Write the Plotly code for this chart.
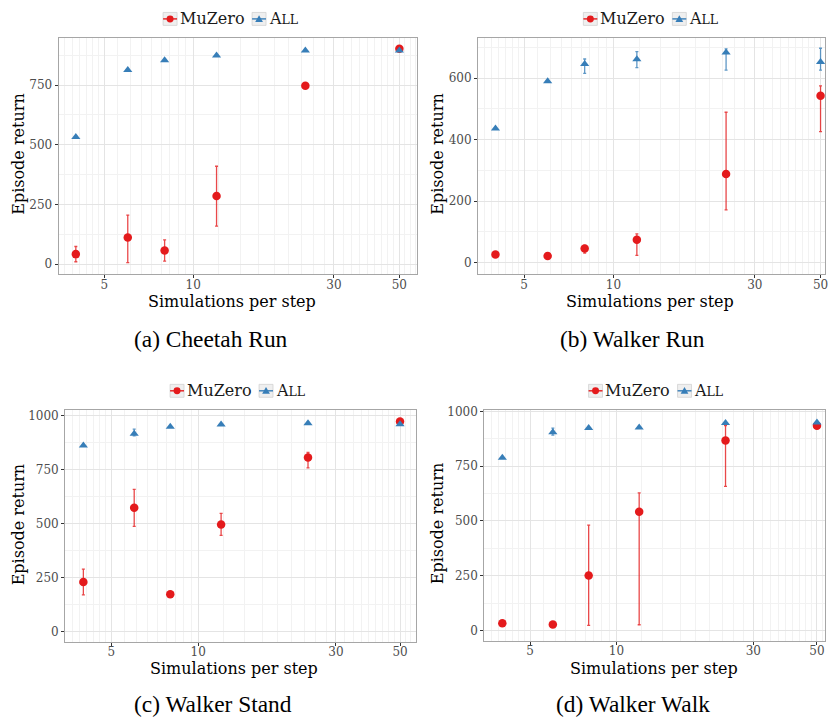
import plotly.graph_objects as go

# ---------------- data ----------------
sims = [4, 6, 8, 12, 24, 50]

panel_titles = ["(a) Cheetah Run", "(b) Walker Run", "(c) Walker Stand", "(d) Walker Walk"]
series_names = ["MuZero", "All"]

cheetah_run_muzero = [42, 112, 57, 285, 747, 902]
cheetah_run_muzero_lo = [10, 6, 13, 159, None, None]
cheetah_run_muzero_hi = [74, 205, 102, 410, None, None]
cheetah_run_all = [532, 813, 854, 874, 895, 895]
cheetah_run_all_lo = [None, None, None, None, None, None]
cheetah_run_all_hi = [None, None, None, None, None, None]

walker_run_muzero = [27, 22, 46, 75, 288, 543]
walker_run_muzero_lo = [None, None, 31, 24, 172, 426]
walker_run_muzero_hi = [None, None, 56, 94, 489, 575]
walker_run_all = [436, 590, 646, 661, 683, 652]
walker_run_all_lo = [None, None, 615, 634, 626, 626]
walker_run_all_hi = [None, None, 662, 686, 695, 697]

walker_stand_muzero = [230, 574, 173, 497, 807, 974]
walker_stand_muzero_lo = [171, 488, None, 446, 759, None]
walker_stand_muzero_hi = [290, 659, None, 548, 830, None]
walker_stand_all = [863, 917, 949, 960, 966, 961]
walker_stand_all_lo = [None, 907, None, None, None, None]
walker_stand_all_hi = [None, 938, None, None, None, None]

walker_walk_muzero = [33, 27, 251, 542, 867, 935]
walker_walk_muzero_lo = [None, None, 23, 26, 658, None]
walker_walk_muzero_hi = [None, None, 481, 628, 935, None]
walker_walk_all = [788, 905, 924, 927, 947, 949]
walker_walk_all_lo = [None, 892, None, None, None, None]
walker_walk_all_hi = [None, 924, None, None, None, None]

x_tick_vals = [5, 10, 30, 50]
x_tick_text = ["5", "10", "30", "50"]
y_ticks_a = [0, 250, 500, 750]
y_ticks_b = [0, 200, 400, 600]
y_ticks_c = [0, 250, 500, 750, 1000]
y_ticks_d = [0, 250, 500, 750, 1000]

# ---------------- styling / layout ----------------
RED = "#E41A1C"
BLUE = "#377EB8"
RED_ERR = "rgba(228,26,28,0.8)"
BLUE_ERR = "rgba(55,126,184,0.8)"
AXFONT = "DejaVu Serif"
CAPFONT = "Liberation Serif"
W, H = 828, 723

panels = [
    dict(mu=cheetah_run_muzero, mu_lo=cheetah_run_muzero_lo, mu_hi=cheetah_run_muzero_hi,
         al=cheetah_run_all, al_lo=cheetah_run_all_lo, al_hi=cheetah_run_all_hi,
         yt=y_ticks_a, ydt=125, px=(58.8, 418.3), py=(33, 271.3), xr=(0.5436, 1.758), yr=(-43, 948),
         leg=(163.7, 14), xt=(232.9, 298.4), yt_pos=(18.5, 150.4), cap=(211.5, 336)),
    dict(mu=walker_run_muzero, mu_lo=walker_run_muzero_lo, mu_hi=walker_run_muzero_hi,
         al=walker_run_all, al_lo=walker_run_all_lo, al_hi=walker_run_all_hi,
         yt=y_ticks_b, ydt=100, px=(479.7, 828), py=(33, 271.3), xr=(0.543, 1.714), yr=(-38, 731),
         leg=(585.5, 14), xt=(652.3, 298.4), yt_pos=(439, 150.4), cap=(634.5, 336)),
    dict(mu=walker_stand_muzero, mu_lo=walker_stand_muzero_lo, mu_hi=walker_stand_muzero_hi,
         al=walker_stand_all, al_lo=walker_stand_all_lo, al_hi=walker_stand_all_hi,
         yt=y_ticks_c, ydt=125, px=(65.4, 418), py=(407.6, 641.5), xr=(0.539, 1.756), yr=(-48, 1028),
         leg=(170.7, 388.5), xt=(235, 668), yt_pos=(18.5, 523.5), cap=(213.5, 704)),
    dict(mu=walker_walk_muzero, mu_lo=walker_walk_muzero_lo, mu_hi=walker_walk_muzero_hi,
         al=walker_walk_all, al_lo=walker_walk_all_lo, al_hi=walker_walk_all_hi,
         yt=y_ticks_d, ydt=125, px=(486, 828), py=(407.7, 640.5), xr=(0.539, 1.727), yr=(-48.6, 1007),
         leg=(590.7, 388.5), xt=(656, 668), yt_pos=(439, 522.5), cap=(635, 704)),
]

# minor gridlines: 8 evenly spaced (data space) between consecutive breaks
minor_x = []
brk = [3, 5, 10, 30, 50, 70]
for a, b in zip(brk[:-1], brk[1:]):
    for k in range(1, 9):
        minor_x.append(a + k * (b - a) / 9)


def err(vals, lo, hi):
    plus, minus = [], []
    for v, l, h in zip(vals, lo, hi):
        plus.append(None if h is None else h - v)
        minus.append(None if l is None else v - l)
    return plus, minus


def px_x(v):
    return v / W


def px_y(v):
    return 1 - v / H


fig = go.Figure()
shapes = []
annotations = []


def add_legend(L, cy):
    # key boxes, lines, glyphs and labels of a ggplot-style legend
    keys = [(L, RED, "circle", series_names[0]),
            (L + 89.3, BLUE, "triangle", "A<span style='font-size:12.5px'>LL</span>")]
    for kx, col, sym, label in keys:
        shapes.append(dict(type="rect", xref="paper", yref="paper",
                           x0=px_x(kx), x1=px_x(kx + 14), y0=px_y(cy + 6.5), y1=px_y(cy - 6.5),
                           fillcolor="#efefef", line=dict(color="#d2d2d2", width=0.8), layer="above"))
        shapes.append(dict(type="line", xref="paper", yref="paper",
                           x0=px_x(kx), x1=px_x(kx + 14), y0=px_y(cy), y1=px_y(cy),
                           line=dict(color=col, width=1.4), layer="above"))
        cx = kx + 7
        if sym == "circle":
            shapes.append(dict(type="circle", xref="paper", yref="paper",
                               x0=px_x(cx - 3.5), x1=px_x(cx + 3.5), y0=px_y(cy + 3.5), y1=px_y(cy - 3.5),
                               fillcolor=col, line=dict(width=0), layer="above"))
        else:
            path = "M {:.5f},{:.5f} L {:.5f},{:.5f} L {:.5f},{:.5f} Z".format(
                px_x(cx - 3.9), px_y(cy + 3.0), px_x(cx + 3.9), px_y(cy + 3.0), px_x(cx), px_y(cy - 3.8))
            shapes.append(dict(type="path", xref="paper", yref="paper", path=path,
                               fillcolor=col, line=dict(width=0), layer="above"))
        annotations.append(dict(text=label, x=px_x(kx + 14.5), y=px_y(cy), xref="paper", yref="paper",
                                xanchor="left", yanchor="middle", showarrow=False,
                                font=dict(family=AXFONT, size=16, color="#1a1a1a")))


for i, p in enumerate(panels):
    n = i + 1
    xa = "x" if n == 1 else f"x{n}"
    ya = "y" if n == 1 else f"y{n}"

    up, dn = err(p["mu"], p["mu_lo"], p["mu_hi"])
    fig.add_trace(go.Scatter(
        x=sims, y=p["mu"], mode="markers", xaxis=xa, yaxis=ya, showlegend=False,
        name=series_names[0],
        marker=dict(color=RED, size=8.5, symbol="circle"),
        error_y=dict(type="data", symmetric=False, array=up, arrayminus=dn,
                     color=RED_ERR, thickness=1.3, width=1.5),
    ))
    up, dn = err(p["al"], p["al_lo"], p["al_hi"])
    fig.add_trace(go.Scatter(
        x=sims, y=p["al"], mode="markers", xaxis=xa, yaxis=ya, showlegend=False,
        name=series_names[1],
        marker=dict(color=BLUE, size=8, symbol="triangle-up"),
        error_y=dict(type="data", symmetric=False, array=up, arrayminus=dn,
                     color=BLUE_ERR, thickness=1.3, width=1.5),
    ))

    x0, x1 = p["px"]
    y0, y1 = p["py"]
    dom_x = [x0 / W, min(x1 / W, 1.0)]
    dom_y = [1 - y1 / H, 1 - y0 / H]
    axis_common = dict(showline=True, linecolor="#a6a6a6", linewidth=1, mirror=True,
                       ticks="outside", ticklen=3, tickcolor="#333333", tickwidth=1,
                       tickfont=dict(family=AXFONT, size=12, color="#4d4d4d"),
                       gridcolor="#e4e4e4", gridwidth=1, zeroline=False,
                       ticklabeloverflow="allow")
    xkey = "xaxis" if n == 1 else f"xaxis{n}"
    ykey = "yaxis" if n == 1 else f"yaxis{n}"
    fig.update_layout(**{
        xkey: dict(axis_common, type="log", domain=dom_x, range=list(p["xr"]), anchor=ya,
                   tickmode="array", tickvals=x_tick_vals, ticktext=x_tick_text,
                   ticklabelstandoff=-4,
                   minor=dict(tickmode="array", tickvals=minor_x, showgrid=True,
                              gridcolor="#f2f2f2", gridwidth=0.8, ticks="")),
        ykey: dict(axis_common, domain=dom_y, range=list(p["yr"]), anchor=xa,
                   tickmode="array", tickvals=p["yt"],
                   minor=dict(dtick=p["ydt"], showgrid=True, gridcolor="#f2f2f2",
                              gridwidth=0.8, ticks="")),
    })

    add_legend(*p["leg"])
    annotations.append(dict(text="Simulations per step", x=px_x(p["xt"][0]), y=px_y(p["xt"][1]),
                            xref="paper", yref="paper", xanchor="center", yanchor="middle",
                            showarrow=False, font=dict(family=AXFONT, size=16, color="#000000")))
    annotations.append(dict(text="Episode return", x=px_x(p["yt_pos"][0]), y=px_y(p["yt_pos"][1]),
                            xref="paper", yref="paper", textangle=-90,
                            xanchor="center", yanchor="middle", showarrow=False,
                            font=dict(family=AXFONT, size=16, color="#000000")))
    annotations.append(dict(text=panel_titles[i], x=px_x(p["cap"][0]), y=px_y(p["cap"][1]),
                            xref="paper", yref="paper", xanchor="center", yanchor="middle",
                            showarrow=False, font=dict(family=CAPFONT, size=23.4, color="#000000")))

fig.update_layout(
    width=W, height=H, margin=dict(l=0, r=0, t=0, b=0),
    paper_bgcolor="white", plot_bgcolor="white", showlegend=False,
    annotations=annotations, shapes=shapes,
)

fig.write_html("out.html", config={"displayModeBar": False},
               post_script="document.body.style.margin='0';document.body.style.overflow='hidden';")
